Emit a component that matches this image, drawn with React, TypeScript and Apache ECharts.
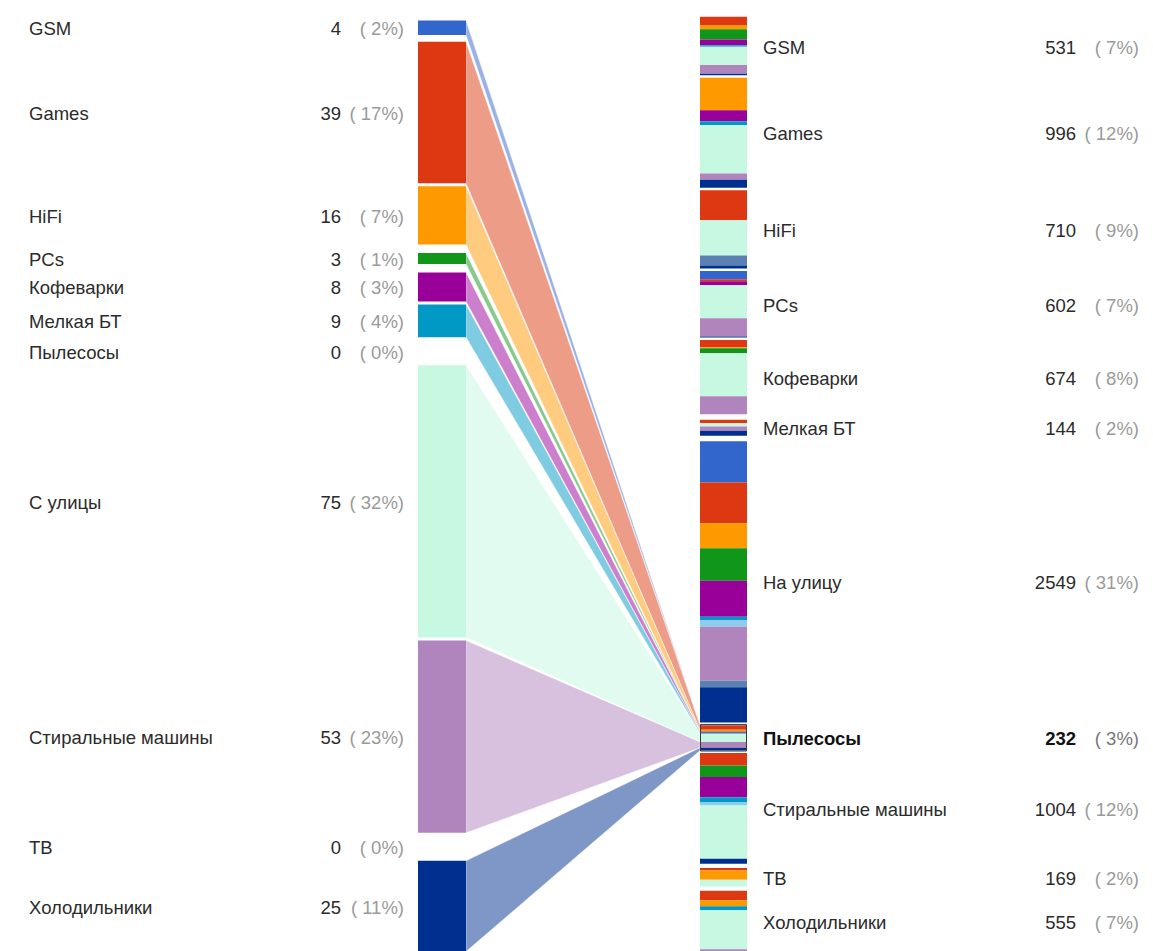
import React, { useEffect, useRef } from "react";
import * as echarts from "echarts";

// ---------- DATA ----------
const SOURCES = [
  "GSM", "Games", "HiFi", "PCs", "Кофеварки", "Мелкая БТ",
  "Пылесосы", "С улицы", "Стиральные машины", "ТВ", "Холодильники",
];
const SOURCE_COLORS = [
  "#3366cc", "#dc3912", "#ff9900", "#109618", "#990099", "#0099c6",
  "#8ecbee", "#c6f8e2", "#b084bd", "#5b80b2", "#00308f",
];
const TARGETS = [
  "GSM", "Games", "HiFi", "PCs", "Кофеварки", "Мелкая БТ",
  "На улицу", "Пылесосы", "Стиральные машины", "ТВ", "Холодильники",
];
// each row: one target, values per source (in SOURCES order)
const TO_GSM = [0, 75, 39, 91, 52, 15, 0, 166, 78, 0, 15];
const TO_GAMES = [0, 0, 294, 0, 100, 36, 0, 438, 55, 0, 73];
const TO_HIFI = [0, 273, 0, 0, 0, 0, 0, 319, 0, 91, 27];
const TO_PCS = [75, 18, 0, 0, 36, 0, 0, 300, 164, 0, 9];
const TO_COFFEE = [0, 66, 9, 45, 0, 0, 0, 390, 164, 0, 0];
const TO_SMALL = [0, 30, 0, 0, 0, 0, 0, 30, 38, 0, 46];
const TO_STREET = [373, 369, 227, 295, 327, 30, 61, 0, 488, 61, 318];
const TO_VACUUM = [4, 39, 16, 3, 8, 9, 0, 75, 53, 0, 25];
const TO_WASHERS = [0, 112, 0, 106, 182, 45, 30, 484, 0, 0, 45];
const TO_TV = [0, 24, 82, 0, 0, 0, 0, 63, 0, 0, 0];
const TO_FRIDGES = [0, 85, 55, 0, 0, 36, 0, 355, 24, 0, 0];
const FLOWS = [
  TO_GSM, TO_GAMES, TO_HIFI, TO_PCS, TO_COFFEE, TO_SMALL,
  TO_STREET, TO_VACUUM, TO_WASHERS, TO_TV, TO_FRIDGES,
];
const SELECTED_TARGET = "Пылесосы";

// ---------- LAYOUT / STYLE ----------
const W = 1153;
const H = 951;
const PX_PER_LEFT_UNIT = 3.63;
const PX_PER_RIGHT_UNIT = 0.1103;
const TOP_PX = 16.8;
const GAP_LEFT_PX = 3;
const GAP_RIGHT_PX = 2.5;
const LABEL_PX = 22;
const LEFT_LABEL_X = 29;
const LEFT_NUM_X = 341;
const LEFT_PCT_X = 404;
const LEFT_BAR_X0 = 418;
const LEFT_BAR_X1 = 466;
const RIGHT_BAR_X0 = 700;
const RIGHT_BAR_X1 = 747;
const RIGHT_LABEL_X = 763;
const RIGHT_NUM_X = 1076;
const RIGHT_PCT_X = 1139;
const FONT = "Arial, 'Liberation Sans', sans-serif";
const FONT_SIZE = 18.5;
const TEXT_DY = 1;
const TEXT_COLOR = "#2b2b2b";
const PCT_COLOR = "#9a9a9a";

const sum = (a: number[]) => a.reduce((s, v) => s + v, 0);

function stackLayout(values: number[], scale: number, top: number, gap: number, label: number) {
  let cursor = top;
  return values.map((v) => {
    const h = v * scale;
    const occ = Math.max(h, label);
    const c = cursor + occ / 2;
    const r = { y0: c - h / 2, y1: c + h / 2, c };
    cursor += occ + gap;
    return r;
  });
}

function text(x: number, y: number, t: string, align: string, fill: string, bold = false) {
  return {
    type: "text",
    x,
    y,
    style: {
      text: t,
      fill,
      fontSize: FONT_SIZE,
      fontFamily: FONT,
      fontWeight: bold ? "bold" : "normal",
      align,
      verticalAlign: "middle",
      textAlign: align,
      textVerticalAlign: "middle",
    },
  };
}

function buildOption() {
  const u = (px: number) => px / PX_PER_LEFT_UNIT; // px -> axis units
  const rightScale = PX_PER_RIGHT_UNIT / PX_PER_LEFT_UNIT;

  const selIdx = TARGETS.indexOf(SELECTED_TARGET);
  const leftValues = FLOWS[selIdx];
  const leftTotal = sum(leftValues);
  const rightTotals = FLOWS.map(sum);
  const grand = sum(rightTotals);

  const leftLayout = stackLayout(leftValues, 1, u(TOP_PX), u(GAP_LEFT_PX), u(LABEL_PX));
  const rightLayout = stackLayout(rightTotals, rightScale, u(TOP_PX), u(GAP_RIGHT_PX), u(LABEL_PX));

  // links: left node -> segment inside selected target group
  const linkData: number[][] = [];
  let cum = rightLayout[selIdx].y0;
  leftValues.forEach((v, i) => {
    const r0 = cum;
    const r1 = cum + v * rightScale;
    cum = r1;
    if (v > 0) linkData.push([leftLayout[i].y0, leftLayout[i].y1, r0, r1, i]);
  });

  const leftNodeData = leftLayout.map((l, i) => [l.y0, l.y1, l.c, i]);

  const rightSegData: number[][] = [];
  FLOWS.forEach((row, t) => {
    let y = rightLayout[t].y0;
    row.forEach((v, s) => {
      if (v > 0) {
        rightSegData.push([y, y + v * rightScale, s]);
        y += v * rightScale;
      }
    });
  });

  const rightLabelData = rightLayout.map((r, t) => [r.y0, r.y1, r.c, t]);

  return {
    animation: false,
    grid: { left: 0, right: 0, top: 0, bottom: 0 },
    xAxis: { type: "value", min: 0, max: W, show: false },
    yAxis: { type: "value", min: 0, max: u(H), inverse: true, show: false },
    series: [
      {
        type: "custom",
        name: "links",
        silent: true,
        clip: false,
        data: linkData,
        renderItem: (params: any, api: any) => {
          const i = api.value(4);
          const a = api.coord([LEFT_BAR_X1, api.value(0)]);
          const b = api.coord([RIGHT_BAR_X0, api.value(2)]);
          const c = api.coord([RIGHT_BAR_X0, api.value(3)]);
          const d = api.coord([LEFT_BAR_X1, api.value(1)]);
          return {
            type: "polygon",
            shape: { points: [a, b, c, d] },
            style: { fill: SOURCE_COLORS[i], opacity: 0.5, stroke: "#ffffff", lineWidth: 0.8 },
          };
        },
      },
      {
        type: "custom",
        name: "leftNodes",
        silent: true,
        clip: false,
        data: leftNodeData,
        renderItem: (params: any, api: any) => {
          const i = api.value(3);
          const p0 = api.coord([LEFT_BAR_X0, api.value(0)]);
          const p1 = api.coord([LEFT_BAR_X1, api.value(1)]);
          const pc = api.coord([0, api.value(2)]);
          const v = leftValues[i];
          const pct = Math.round((v / leftTotal) * 100);
          const children: any[] = [];
          if (v > 0) {
            children.push({
              type: "rect",
              shape: { x: p0[0], y: p0[1], width: p1[0] - p0[0], height: p1[1] - p0[1] },
              style: { fill: SOURCE_COLORS[i] },
            });
          }
          const ty = pc[1] + TEXT_DY;
          children.push(text(LEFT_LABEL_X, ty, SOURCES[i], "left", TEXT_COLOR));
          children.push(text(LEFT_NUM_X, ty, String(v), "right", TEXT_COLOR));
          children.push(text(LEFT_PCT_X, ty, "( " + pct + "%)", "right", PCT_COLOR));
          return { type: "group", children };
        },
      },
      {
        type: "custom",
        name: "rightSegments",
        silent: true,
        clip: false,
        data: rightSegData,
        renderItem: (params: any, api: any) => {
          const s = api.value(2);
          const p0 = api.coord([RIGHT_BAR_X0, api.value(0)]);
          const p1 = api.coord([RIGHT_BAR_X1, api.value(1)]);
          return {
            type: "rect",
            shape: { x: p0[0], y: p0[1], width: p1[0] - p0[0], height: p1[1] - p0[1] },
            style: { fill: SOURCE_COLORS[s] },
          };
        },
      },
      {
        type: "custom",
        name: "rightLabels",
        silent: true,
        clip: false,
        data: rightLabelData,
        renderItem: (params: any, api: any) => {
          const t = api.value(3);
          const p0 = api.coord([RIGHT_BAR_X0, api.value(0)]);
          const p1 = api.coord([RIGHT_BAR_X1, api.value(1)]);
          const pc = api.coord([0, api.value(2)]);
          const v = rightTotals[t];
          const pct = Math.round((v / grand) * 100);
          const sel = t === selIdx;
          const children: any[] = [];
          if (sel) {
            children.push({
              type: "rect",
              shape: { x: p0[0] + 0.5, y: p0[1] - 0.5, width: p1[0] - p0[0] - 1, height: p1[1] - p0[1] + 1 },
              style: { fill: "none", stroke: "#3a3a3a", lineWidth: 1 },
            });
          }
          const ty = pc[1] + TEXT_DY;
          children.push(text(RIGHT_LABEL_X, ty, TARGETS[t], "left", sel ? "#111" : TEXT_COLOR, sel));
          children.push(text(RIGHT_NUM_X, ty, String(v), "right", sel ? "#111" : TEXT_COLOR, sel));
          children.push(text(RIGHT_PCT_X, ty, "( " + pct + "%)", "right", sel ? "#777" : PCT_COLOR));
          return { type: "group", children };
        },
      },
    ],
  };
}

export default function App() {
  const ref = useRef<HTMLDivElement>(null);
  useEffect(() => {
    if (!ref.current) return;
    const chart = echarts.init(ref.current, undefined, { renderer: "svg" });
    chart.setOption(buildOption() as any);
    return () => chart.dispose();
  }, []);
  return (
    <div
      ref={ref}
      style={{ position: "absolute", left: 0, top: 0, width: W, height: H, background: "#ffffff" }}
    />
  );
}
